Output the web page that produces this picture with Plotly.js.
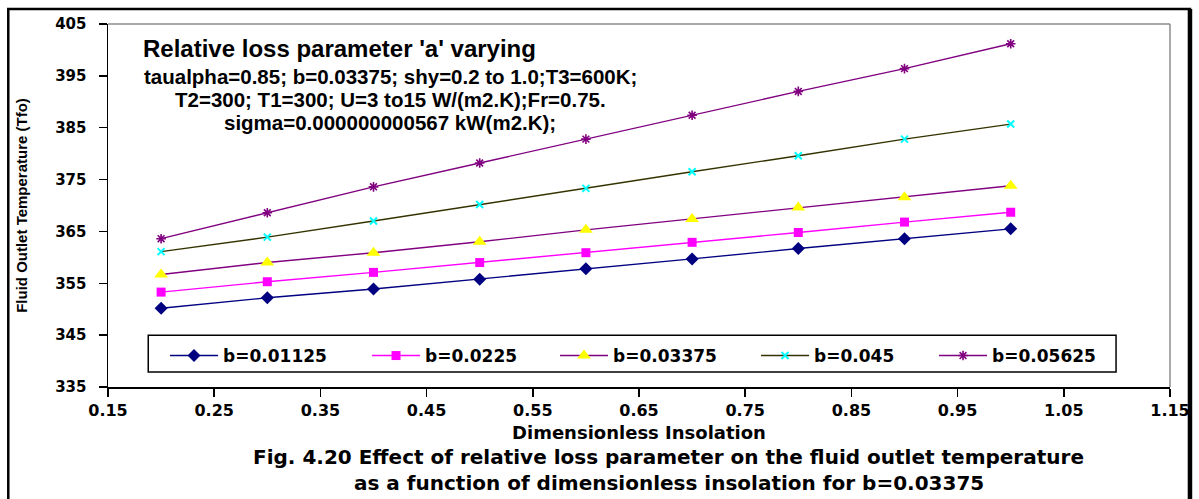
<!DOCTYPE html>
<html>
<head>
<meta charset="utf-8">
<script src="https://cdn.plot.ly/plotly-3.0.1.min.js"></script>
<style>
  html, body { margin: 0; padding: 0; background: #ffffff; }
  #chart { width: 1199px; height: 499px; }
</style>
</head>
<body>
<div id="chart"></div>
<script>
// ---- data ----
const insolation = [0.2, 0.3, 0.4, 0.5, 0.6, 0.7, 0.8, 0.9, 1.0];
const seriesNames = ['b=0.01125', 'b=0.0225', 'b=0.03375', 'b=0.045', 'b=0.05625'];
const tfo_b01125 = [350.2, 352.2, 353.9, 355.8, 357.8, 359.7, 361.7, 363.6, 365.5];
const tfo_b0225  = [353.3, 355.3, 357.1, 359.0, 360.9, 362.9, 364.8, 366.8, 368.7];
const tfo_b03375 = [356.7, 359.0, 360.9, 363.0, 365.3, 367.4, 369.6, 371.6, 373.8];
const tfo_b045   = [361.1, 363.9, 367.0, 370.2, 373.3, 376.5, 379.6, 382.8, 385.7];
const tfo_b05625 = [363.6, 368.6, 373.6, 378.2, 382.8, 387.4, 392.0, 396.4, 401.2];
const xTickVals = [0.15, 0.25, 0.35, 0.45, 0.55, 0.65, 0.75, 0.85, 0.95, 1.05, 1.15];
const yTickVals = [335, 345, 355, 365, 375, 385, 395, 405];

const chartTitle = "Relative loss parameter 'a' varying";
const noteLines = [
  'taualpha=0.85; b=0.03375; shy=0.2 to 1.0;T3=600K;',
  'T2=300; T1=300; U=3 to15 W/(m2.K);Fr=0.75.',
  'sigma=0.000000000567 kW(m2.K);'
];
const captionLines = [
  'Fig. 4.20 Effect of relative loss parameter on the fluid outlet temperature',
  'as a function of dimensionless insolation for b=0.03375'
];
const xTitle = 'Dimensionless Insolation';
const yTitle = 'Fluid Outlet Temperature (Tfo)';

// ---- styles ----
const allSeries = [tfo_b01125, tfo_b0225, tfo_b03375, tfo_b045, tfo_b05625];
const lineColors = ['#000080', '#FF00FF', '#800080', '#333300', '#800080'];
const markerStyles = [
  {symbol: 'diamond', size: 10, color: '#000080', line: {width: 0}},
  {symbol: 'square', size: 9, color: '#FF00FF', line: {width: 0}},
  {symbol: 'triangle-up', size: 12, color: '#FFFF00', line: {width: 0}},
  {symbol: 'x-thin-open', size: 7, color: '#00FFFF', line: {width: 2, color: '#00FFFF'}},
  {symbol: 'asterisk-open', size: 8, color: '#800080', line: {width: 1.6, color: '#800080'}}
];
const legendWidths = [139, 125, 138, 115, 110];

const traces = allSeries.map((ys, i) => ({
  type: 'scatter',
  mode: 'lines+markers',
  name: seriesNames[i],
  x: insolation,
  y: ys,
  line: {color: lineColors[i], width: 1.4},
  marker: markerStyles[i],
  legendwidth: legendWidths[i],
  hoverinfo: 'x+y+name'
}));

const boldDejavu = {family: 'DejaVu Sans', weight: 'bold', color: '#000000'};
const boldArial = {family: 'Liberation Sans, Arial', weight: 'bold', color: '#000000'};

const annotations = [];
annotations.push({
  xref: 'paper', yref: 'paper', x: 0.218, y: 0.933, xanchor: 'center', yanchor: 'middle',
  text: chartTitle, showarrow: false, font: Object.assign({size: 24}, boldArial)
});
const noteY = [0.856, 0.7925, 0.729];
noteLines.forEach((t, i) => annotations.push({
  xref: 'paper', yref: 'paper', x: 0.266, y: noteY[i], xanchor: 'center', yanchor: 'middle',
  text: t, showarrow: false, font: Object.assign({size: 20.5}, boldArial)
}));
const capY = [-0.1938, -0.2641];
captionLines.forEach((t, i) => annotations.push({
  xref: 'paper', yref: 'paper', x: 0.528, y: capY[i], xanchor: 'center', yanchor: 'middle',
  text: t, showarrow: false, font: Object.assign({size: 20}, boldDejavu)
}));

const shapes = [
  // plot-area border (top and right, grey)
  {type: 'line', xref: 'paper', yref: 'paper', x0: 0, x1: 1, y0: 1, y1: 1, line: {color: '#8c8c8c', width: 1.5}},
  {type: 'line', xref: 'paper', yref: 'paper', x0: 1, x1: 1, y0: 0, y1: 1, line: {color: '#8c8c8c', width: 1.5}},
  // legend box
  {type: 'rect', xref: 'paper', yref: 'paper', x0: 0.0379, x1: 0.9492, y0: 0.0414, y1: 0.1425,
   line: {color: '#000000', width: 1.5}, fillcolor: 'rgba(0,0,0,0)', layer: 'above'},
  // outer frame
  {type: 'rect', xref: 'paper', yref: 'paper', x0: -0.0939, x1: 1.0188, y0: -0.45, y1: 1.0414,
   line: {color: '#000000', width: 2.5}, fillcolor: 'rgba(0,0,0,0)', layer: 'above'},
  {type: 'line', xref: 'paper', yref: 'paper', x0: 1.0188, x1: 1.0188, y0: -0.45, y1: 1.0414,
   line: {color: '#000000', width: 4.5}, layer: 'above'}
];

const layout = {
  width: 1199, height: 499,
  margin: {l: 108, r: 29, t: 24, b: 112},
  paper_bgcolor: '#ffffff', plot_bgcolor: '#ffffff',
  showlegend: true,
  legend: {
    orientation: 'h', x: 0.0537, y: 0.135, xanchor: 'left', yanchor: 'top',
    bgcolor: 'rgba(0,0,0,0)', borderwidth: 0, itemwidth: 48,
    font: Object.assign({size: 17}, boldDejavu)
  },
  xaxis: {
    range: [0.15, 1.15], tickvals: xTickVals, ticktext: xTickVals.map(v => v.toFixed(2)),
    showgrid: false, zeroline: false, showline: true, linecolor: '#000000', linewidth: 1.5,
    ticks: 'outside', ticklen: 8, tickwidth: 1.5, tickcolor: '#000000',
    tickfont: Object.assign({size: 16}, boldDejavu),
    title: {text: xTitle, font: Object.assign({size: 18}, boldDejavu), standoff: 7},
    automargin: false
  },
  yaxis: {
    range: [335, 405], tickvals: yTickVals, ticktext: yTickVals.map(v => String(v)),
    showgrid: false, zeroline: false, showline: true, linecolor: '#000000', linewidth: 1.5,
    ticks: 'outside', ticklen: 8, tickwidth: 1.5, tickcolor: '#000000',
    ticklabelstandoff: 9,
    tickfont: Object.assign({size: 15}, boldDejavu),
    title: {text: yTitle, font: Object.assign({size: 15}, boldArial), standoff: 24},
    automargin: false
  },
  annotations: annotations,
  shapes: shapes
};

Plotly.newPlot('chart', traces, layout, {displayModeBar: false, staticPlot: true});
</script>
</body>
</html>
